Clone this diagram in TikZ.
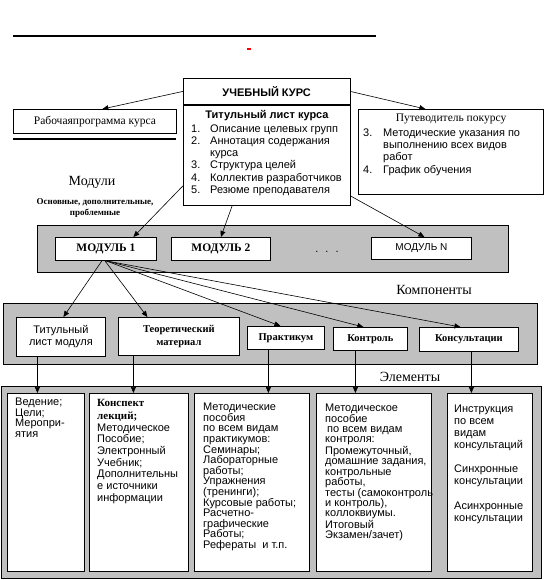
\documentclass[tikz,border=0pt]{standalone}
\usepackage{fontspec}
\setmainfont{Liberation Serif}
\setsansfont{Liberation Sans}
\usetikzlibrary{arrows.meta}
\definecolor{bandgray}{HTML}{C0C0C0}
\tikzset{
  boxw/.style={draw, fill=white, line width=0.8pt, inner sep=0pt},
  band/.style={draw, fill=bandgray, line width=0.8pt, inner sep=0pt},
  arr/.style={-{Triangle[length=6pt,width=5pt]}, line width=0.6pt},
  thickrule/.style={line width=2pt},
  serifbig/.style={font=\fontsize{14}{16}\selectfont, inner sep=0pt},
  serifmid/.style={font=\fontsize{11.5}{13}\selectfont, inner sep=0pt},
  smallbold/.style={font=\bfseries\fontsize{9}{11}\selectfont, inner sep=0pt, align=center},
  boldsans/.style={font=\sffamily\bfseries\fontsize{11}{12}\selectfont},
  boldserif/.style={font=\bfseries\fontsize{10.5}{12.5}\selectfont, align=center},
  modserif/.style={font=\bfseries\fontsize{11.5}{13}\selectfont, align=center},
  plainsans/.style={font=\sffamily\fontsize{11}{12}\selectfont, align=center},
  listsans/.style={font=\sffamily\fontsize{11}{12.2}\selectfont, inner sep=0pt, align=left},
}
\newcommand\mkbox[7]{\node[#6, minimum width={(#4-#2)*1pt}, minimum height={(#5-#3)*1pt}, anchor=north west] (#1) at (#2,#3) {#7};}
\begin{document}
\begin{tikzpicture}[x=1pt,y=-1pt]
\useasboundingbox (0,0) rectangle (545,580);
% top rule and red dash
\draw[thickrule] (13,36) coordinate (topa) -- (376,36) coordinate (topb);
\fill[red] (247,48) rectangle (251,50.5);
% top boxes
\mkbox{kurs}{183}{78}{349.5}{104}{boxw, boldsans}{УЧЕБНЫЙ КУРС}
\mkbox{tit}{183}{105.5}{349.5}{205}{boxw}{}
\mkbox{rab}{13}{109}{176}{133}{boxw, serifmid}{Рабочаяпрограмма курса}
\draw[thickrule] (13,139) coordinate (rla) -- (176,139) coordinate (rlb);
\mkbox{put}{358}{109}{543}{194}{boxw}{}
\node[boldsans, inner sep=0pt] (titt) at (267,116) {Титульный лист курса};
\node[listsans, anchor=north west] (titl) at (191,124.5) {\makebox[19pt][l]{1.}Описание целевых групп\\
\makebox[19pt][l]{2.}Аннотация содержания\\
\hspace*{19pt}курса\\
\makebox[19pt][l]{3.}Структура целей\\
\makebox[19pt][l]{4.}Коллектив разработчиков\\
\makebox[19pt][l]{5.}Резюме преподавателя};
\node[serifmid] (putt) at (451,119) {Путеводитель покурсу};
\node[listsans, font=\sffamily\fontsize{11}{12.3}\selectfont, anchor=north west] (putl) at (363,128.5) {\makebox[20pt][l]{3.}Методические указания по\\
\hspace*{20pt}выполнению всех видов\\
\hspace*{20pt}работ\\
\makebox[20pt][l]{4.}График обучения};
\node[serifbig] (modl) at (92,182) {Модули};
\node[smallbold] (osn) at (95,207.5) {Основные, дополнительные,\\проблемные};
% module band
\mkbox{bandm}{37}{225}{508}{272}{band}{}
\mkbox{m1}{55}{237}{156}{260}{boxw, modserif}{МОДУЛЬ 1}
\mkbox{m2}{171}{237}{270}{260}{boxw, modserif}{МОДУЛЬ 2}
\mkbox{mn}{371}{237}{471}{259}{boxw, font=\sffamily\fontsize{10}{12}\selectfont}{МОДУЛЬ N}
\node[font=\sffamily\fontsize{11}{12}\selectfont, inner sep=0pt] (dots) at (327,252) {.\hspace{7pt}.\hspace{7pt}.};
\node[serifbig] (komp) at (434,290) {Компоненты};
% component band
\mkbox{bandc}{3}{303}{537}{364}{band}{}
\mkbox{tl}{16}{317}{105}{356}{boxw, plainsans}{Титульный\\лист модуля}
\mkbox{teo}{118}{317}{239}{355}{boxw, boldserif}{Теоретический\\материал}
\mkbox{pr}{247}{326}{324}{349}{boxw, boldserif}{Практикум}
\mkbox{ko}{333}{327}{407}{350}{boxw, boldserif}{Контроль}
\mkbox{kc}{419}{327}{518}{351}{boxw, boldserif}{Консультации}
\node[serifbig] (elem) at (410,377) {Элементы};
% element band
\mkbox{bande}{1}{386}{541}{578}{band}{}
\mkbox{e1}{7}{393}{84}{571}{boxw}{}
\mkbox{e2}{89}{393}{188}{571}{boxw}{}
\mkbox{e3}{194}{393}{309}{571}{boxw}{}
\mkbox{e4}{316}{393}{431}{571}{boxw}{}
\mkbox{e5}{447}{393}{532}{571}{boxw}{}
\node[listsans, font=\sffamily\fontsize{11}{10.5}\selectfont, anchor=north west] (e1t) at (15,398) {Ведение;\\Цели;\\Меропри-\\ятия};
\node[listsans, font=\sffamily\fontsize{11}{11.7}\selectfont, anchor=north west] (e2t) at (97,399) {{\rmfamily\bfseries Конспект}\\[1.3pt]{\rmfamily\bfseries лекций;}\\Методическое\\Пособие;\\Электронный\\Учебник;\\Дополнительны\\е источники\\информации};
\node[listsans, font=\sffamily\fontsize{11}{10.6}\selectfont, anchor=north west] (e3t) at (203,403) {Методические\\пособия\\по всем видам\\практикумов:\\Семинары;\\Лабораторные\\работы;\\Упражнения\\(тренинги);\\Курсовые работы;\\Расчетно-\\графические\\Работы;\\Рефераты\ \ и т.п.};
\node[listsans, font=\sffamily\fontsize{11}{10.4}\selectfont, anchor=north west] (e4t) at (325,404) {Методическое\\пособие\\\hspace*{2pt}по всем видам\\контроля:\\Промежуточный,\\домашние задания,\\контрольные\\работы,\\тесты (самоконтроль\\и контроль),\\коллоквиумы.\\Итоговый\\Экзамен/зачет)};
\node[listsans, font=\sffamily\fontsize{11}{11.8}\selectfont, anchor=north west] (e5t) at (454,405) {Инструкция\\по всем\\видам\\консультаций\\[13pt]Синхронные\\консультации\\[13pt]Асинхронные\\консультации};
% connectors
\draw[arr] (kurs.west) -- ([xshift=7.5pt]rab.north);
\draw[arr] (kurs.east) -- ([xshift=-25.5pt]put.north);
\draw[arr] ([yshift=20pt]tit.south west) -- ([xshift=27.5pt]m1.north);
\draw[arr] ([xshift=-34.5pt]tit.south) -- (m2.north);
\draw[arr] ([yshift=10pt]tit.south east) -- ([xshift=3pt]mn.north);
\draw[arr] ([xshift=-4pt]m1.south) -- ([xshift=2.5pt]tl.north);
\draw[arr] ([xshift=-1pt]m1.south) -- ([xshift=-31.5pt]teo.north);
\draw[arr] (m1.south) -- ([xshift=-5.5pt]pr.north);
\draw[arr] (m1.south) -- ([xshift=-7pt]ko.north);
\draw[arr] (m1.south) -- ([xshift=-8.5pt]kc.north);
\draw[arr] ([xshift=-23.5pt]tl.south) -- ([xshift=-23.5pt]tl.south |- e1.north);
\draw[arr] ([xshift=-45.5pt]teo.south) -- ([xshift=-45.5pt]teo.south |- e2.north);
\draw[arr] ([xshift=-17.5pt]pr.south) -- ([xshift=-17.5pt]pr.south |- e3.north);
\draw[arr] ([xshift=-15pt]ko.south) -- ([xshift=-15pt]ko.south |- e4.north);
\draw[arr] ([xshift=2.5pt]kc.south) -- ([xshift=2.5pt]kc.south |- e5.north);
\end{tikzpicture}
\end{document}
